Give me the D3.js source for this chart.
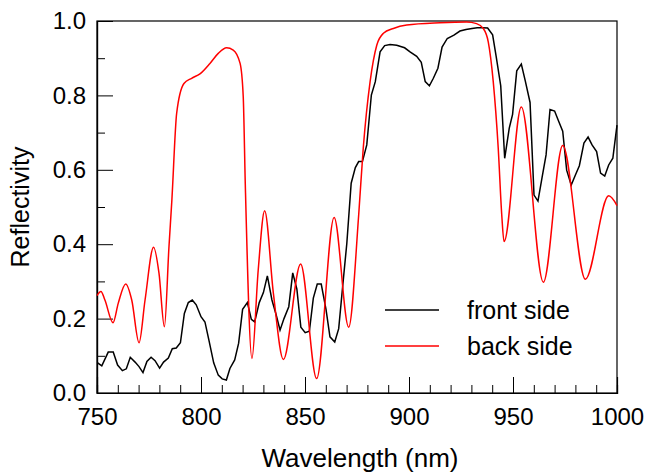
<!DOCTYPE html>
<html>
<head>
<meta charset="utf-8">
<script src="https://cdn.jsdelivr.net/npm/d3@7"></script>
<style>
  body { margin: 0; background: #fff; }
  text { font-family: "Liberation Sans", Arial, sans-serif; }
</style>
</head>
<body>
<script>
    var w = 648;
    var h = 475;

    // front side (black), sampled about every 2 nm
    var frontWave = [750.3, 752.3, 755.4, 757.8, 759.9, 762.2, 764.1, 766.0, 768.3, 770.2,
        772.1, 774.0, 776.0, 777.9, 780.1, 782.0, 784.3, 786.2, 788.1, 790.1,
        792.0, 793.9, 795.8, 797.7, 800.0, 801.9, 803.8, 806.1, 808.3, 810.2,
        812.2, 813.9, 816.2, 818.1, 820.0, 822.3, 824.2, 825.8, 828.0, 830.0,
        831.9, 834.1, 836.1, 838.0, 839.9, 842.2, 844.1, 846.1, 848.0, 850.1,
        852.1, 854.0, 855.9, 857.8, 860.1, 862.0, 864.3, 866.2, 868.1, 870.1,
        872.2, 874.2, 875.8, 877.6, 879.7, 881.9, 883.8, 886.1, 888.3, 890.9,
        894.1, 897.9, 900.5, 903.7, 905.9, 907.8, 909.8, 911.7, 913.9, 915.9,
        918.4, 921.6, 924.5, 927.4, 930.3, 932.8, 935.4, 937.8, 940.2, 941.9,
        944.1, 946.0, 948.2, 949.8, 951.8, 954.0, 955.9, 958.2, 960.1, 962.0,
        963.9, 965.9, 967.8, 970.0, 971.9, 973.9, 975.8, 978.0, 980.0, 981.9,
        984.1, 986.1, 988.0, 990.2, 992.1, 994.1, 996.0, 998.0, 1000];
    var frontRefl = [0.081, 0.073, 0.110, 0.110, 0.075, 0.060, 0.065, 0.096, 0.083, 0.071,
        0.055, 0.085, 0.096, 0.087, 0.067, 0.083, 0.094, 0.119, 0.121, 0.135,
        0.214, 0.243, 0.250, 0.237, 0.205, 0.191, 0.142, 0.081, 0.048, 0.038,
        0.035, 0.066, 0.089, 0.134, 0.225, 0.243, 0.198, 0.191, 0.243, 0.270,
        0.315, 0.250, 0.211, 0.169, 0.200, 0.232, 0.323, 0.279, 0.177, 0.162,
        0.166, 0.255, 0.293, 0.293, 0.225, 0.151, 0.137, 0.173, 0.286, 0.402,
        0.564, 0.606, 0.622, 0.622, 0.667, 0.801, 0.837, 0.917, 0.934, 0.937,
        0.935, 0.928, 0.917, 0.905, 0.889, 0.837, 0.826, 0.846, 0.873, 0.930,
        0.953, 0.962, 0.973, 0.977, 0.980, 0.982, 0.982, 0.981, 0.963, 0.905,
        0.826, 0.631, 0.712, 0.749, 0.866, 0.884, 0.839, 0.781, 0.532, 0.516,
        0.577, 0.640, 0.762, 0.758, 0.731, 0.704, 0.599, 0.559, 0.586, 0.611,
        0.672, 0.688, 0.667, 0.649, 0.591, 0.583, 0.613, 0.631, 0.720];

    // back side (red), smooth curve through read-off points
    var backWave = [750, 751.9, 753.8, 757.7, 760.2, 763.8, 766.7, 770.2, 773.1, 777.2,
        779.8, 782.4, 784.6, 786.0, 788.3, 791.8, 795.5, 799.5, 804.3, 808.3,
        812.3, 815.5, 818.8, 820.3, 821.3, 824.5, 827.5, 830.6, 834.8, 839.6,
        847.9, 855.6, 864.0, 871.0, 875.8, 878.0, 881.3, 884.5, 887.7, 892.5,
        898.9, 914.9, 927.7, 932.5, 935.7, 938.1, 940.5, 942.9, 944.6, 945.7,
        954.0, 964.6, 973.9, 984.8, 996.0, 1000];
    var backRefl = [0.262, 0.273, 0.250, 0.189, 0.241, 0.293, 0.250, 0.135, 0.250, 0.392,
        0.322, 0.178, 0.393, 0.519, 0.752, 0.832, 0.846, 0.858, 0.886, 0.913,
        0.928, 0.922, 0.886, 0.797, 0.560, 0.093, 0.330, 0.490, 0.268, 0.090,
        0.347, 0.039, 0.472, 0.177, 0.478, 0.658, 0.837, 0.935, 0.967, 0.980,
        0.989, 0.995, 0.997, 0.993, 0.980, 0.944, 0.837, 0.658, 0.478, 0.407,
        0.769, 0.298, 0.665, 0.306, 0.530, 0.504];

    var xMajor = [750, 800, 850, 900, 950, 1000];
    var xMinor = [760, 770, 780, 790, 810, 820, 830, 840, 860, 870, 880, 890,
                  910, 920, 930, 940, 960, 970, 980, 990];
    var yMajor = [0, 0.2, 0.4, 0.6, 0.8, 1.0];
    var yMinor = [0.1, 0.3, 0.5, 0.7, 0.9];

    var seriesNames = ["front side", "back side"];
    var seriesColors = ["#000000", "#ff0000"];

    var mLeft = 97, mRight = 617, mTop = 21, mBottom = 393;

    var svg = d3.select("body")
                .append("svg")
                .attr("width", w)
                .attr("height", h);

    var x = d3.scaleLinear().domain([750, 1000]).range([mLeft, mRight]);
    var y = d3.scaleLinear().domain([0, 1]).range([mBottom, mTop]);

    // frame
    svg.append("rect")
       .attr("x", mLeft).attr("y", mTop)
       .attr("width", mRight - mLeft).attr("height", mBottom - mTop)
       .attr("fill", "none").attr("stroke", "black").attr("stroke-width", 1.2);

    // x axis, ticks pointing inward
    svg.append("g").attr("transform", "translate(0," + mBottom + ")")
        .call(d3.axisBottom(x).tickValues(xMajor).tickSize(-16).tickFormat(d3.format("d")).tickPadding(15));
    svg.append("g").attr("transform", "translate(0," + mBottom + ")")
        .call(d3.axisBottom(x).tickValues(xMinor).tickSize(-8).tickFormat(""));

    svg.append("g").attr("transform", "translate(" + mLeft + ",0)")
        .call(d3.axisLeft(y).tickValues(yMajor).tickSize(-16).tickFormat(d3.format(".1f")).tickPadding(11));
    svg.append("g").attr("transform", "translate(" + mLeft + ",0)")
        .call(d3.axisLeft(y).tickValues(yMinor).tickSize(-8).tickFormat(""));

    svg.selectAll(".domain").attr("stroke", "black").attr("stroke-width", 1.2);
    svg.selectAll(".tick line").attr("stroke", "black");
    svg.selectAll(".tick text")
       .attr("fill", "black")
       .style("font-family", "'Liberation Sans', Arial, sans-serif")
       .style("font-size", "24px");

    // axis titles
    svg.append("text")
       .attr("x", 360)
       .attr("y", 467)
       .attr("text-anchor", "middle")
       .style("font-size", "26px")
       .text("Wavelength (nm)");

    svg.append("text")
       .attr("transform", "translate(29," + (mTop + mBottom) / 2 + ") rotate(-90)")
       .attr("text-anchor", "middle")
       .style("font-size", "25px")
       .text("Reflectivity");

    // lines
    var front = frontWave.map(function(d, i) { return [d, frontRefl[i]]; });
    var back = backWave.map(function(d, i) { return [d, backRefl[i]]; });

    var lineLin = d3.line().x(d => x(d[0])).y(d => y(d[1]));
    var lineSmooth = d3.line().x(d => x(d[0])).y(d => y(d[1])).curve(d3.curveMonotoneX);

    svg.append("path")
       .attr("d", lineLin(front))
       .attr("fill", "none")
       .attr("stroke", seriesColors[0])
       .attr("stroke-width", 1.5);

    svg.append("path")
       .attr("d", lineSmooth(back))
       .attr("fill", "none")
       .attr("stroke", seriesColors[1])
       .attr("stroke-width", 1.5);

    // legend
    var legend = svg.selectAll(".legend")
        .data(seriesNames)
        .enter()
        .append("g")
        .attr("transform", (d, i) => "translate(385," + (310 + i * 36) + ")");

    legend.append("line")
          .attr("x1", 0).attr("x2", 54)
          .attr("stroke", (d, i) => seriesColors[i])
          .attr("stroke-width", 1.5);

    legend.append("text")
          .attr("x", 82)
          .attr("y", 9)
          .style("font-size", "25px")
          .text(d => d);
</script>
</body>
</html>
